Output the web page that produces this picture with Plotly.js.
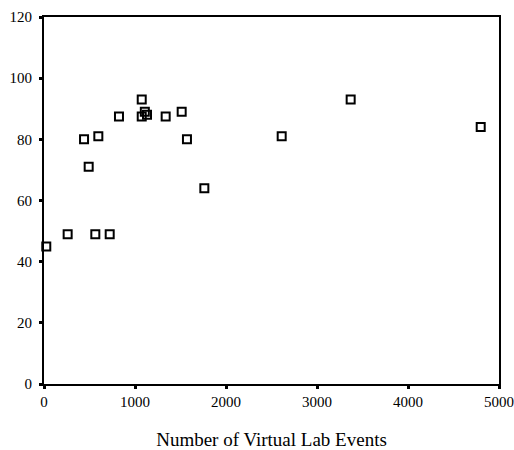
<!DOCTYPE html>
<html>
<head>
<meta charset="utf-8">
<script src="https://cdn.plot.ly/plotly-3.0.1.min.js"></script>
<style>html,body{margin:0;padding:0;background:#fff;}#chart{width:514px;height:450px;}</style>
</head>
<body>
<div id="chart"></div>
<script>
const labEvents = [25, 260, 440, 491, 597, 564, 722, 824, 1074, 1074, 1108, 1132, 1337, 1513, 1571, 1762, 2612, 3370, 4799];
const scores    = [45, 49, 80, 71, 81, 49, 49, 87.5, 93, 87.5, 89, 88, 87.5, 89, 80, 64, 81, 93, 84];
const xTicks = [0, 1000, 2000, 3000, 4000, 5000];
const yTicks = [0, 20, 40, 60, 80, 100, 120];
const xTitle = "Number of Virtual Lab Events";

const fam = "Liberation Serif";
const font = {family: fam, size: 15, color: "#000"};
const trace = {
  x: labEvents, y: scores, type: "scatter", mode: "markers",
  marker: {symbol: "square-open", size: 8, color: "#000", line: {width: 2, color: "#000"}},
  cliponaxis: false, hoverinfo: "skip"
};
const layout = {
  width: 514, height: 450,
  margin: {l: 44, r: 15, t: 17, b: 66},
  paper_bgcolor: "#fff", plot_bgcolor: "#fff",
  font: font, showlegend: false,
  xaxis: {
    range: [0, 5000], tickvals: xTicks, ticktext: xTicks.map(String),
    showgrid: false, zeroline: false, showline: true, linecolor: "#000", linewidth: 2, mirror: true,
    ticks: "outside", ticklen: 3, tickwidth: 3, tickcolor: "#000",
    tickfont: font,
    title: {text: xTitle, font: {family: fam, size: 19, color: "#000"}, standoff: 24}
  },
  yaxis: {
    range: [0, 120], tickvals: yTicks, ticktext: yTicks.map(String),
    showgrid: false, zeroline: false, showline: true, linecolor: "#000", linewidth: 2, mirror: true,
    ticks: "outside", ticklen: 3, tickwidth: 3, tickcolor: "#000",
    tickfont: font, ticklabelstandoff: 4
  }
};
Plotly.newPlot("chart", [trace], layout, {displayModeBar: false, staticPlot: true});
</script>
</body>
</html>
